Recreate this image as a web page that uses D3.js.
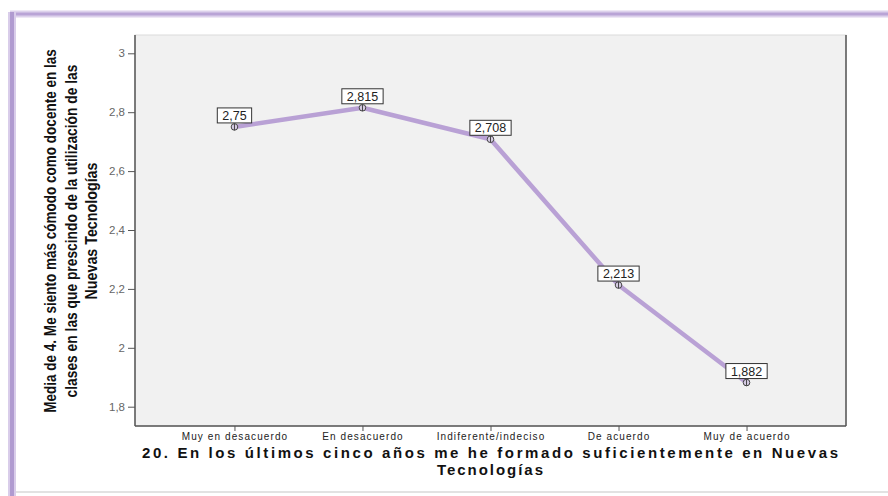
<!DOCTYPE html>
<html>
<head>
<meta charset="utf-8">
<script src="https://cdn.jsdelivr.net/npm/d3@7"></script>
<style>
  body { margin: 0; background: #fff; }
  svg { display: block; }
</style>
</head>
<body>
<script>
var w = 888, h = 496;

// data
var categories = ["Muy en desacuerdo", "En desacuerdo", "Indiferente/indeciso", "De acuerdo", "Muy de acuerdo"];
var means = [2.75, 2.815, 2.708, 2.213, 1.882];
var yTicks = [1.8, 2, 2.2, 2.4, 2.6, 2.8, 3];
var yTitle = ["Media de 4. Me siento más cómodo como  docente en las",
              "clases en las que  prescindo de la utilización de las",
              "Nuevas Tecnologías"];
var xTitle = ["20. En los últimos cinco años me he  formado suficientemente en Nuevas",
              "Tecnologías"];

var loc = d3.formatLocale({decimal: ",", thousands: ".", grouping: [3], currency: ["", ""]});
var fTick = loc.format(".1~f");
var fVal = loc.format(".3~f");

var plot = {left: 135, right: 846, top: 35, bottom: 426};

var svg = d3.select("body").append("svg").attr("width", w).attr("height", h);

// card frame
svg.append("rect").attr("x", 15).attr("y", 14).attr("width", w - 15).attr("height", 478).attr("fill", "#fff");
svg.append("line").attr("x1", 15).attr("x2", w).attr("y1", 492).attr("y2", 492)
  .attr("stroke", "#e2e2e2").attr("stroke-width", 2);
svg.append("line").attr("x1", 10).attr("x2", w).attr("y1", 14).attr("y2", 14)
  .attr("stroke", "#ddd2ec").attr("stroke-width", 7);
svg.append("line").attr("x1", 10).attr("x2", w).attr("y1", 14).attr("y2", 14)
  .attr("stroke", "#b9a4d6").attr("stroke-width", 3);
svg.append("line").attr("x1", 12).attr("x2", 12).attr("y1", 12).attr("y2", h)
  .attr("stroke", "#d9cdea").attr("stroke-width", 8);
svg.append("line").attr("x1", 12).attr("x2", 12).attr("y1", 12).attr("y2", h)
  .attr("stroke", "#b09bd0").attr("stroke-width", 4);

var x = d3.scalePoint().domain(categories).range([plot.left, plot.right]).padding(0.777);
var y = d3.scaleLinear().domain([1.8, 3]).range([406.7, 53.3]);

// plot background
svg.append("rect")
  .attr("x", plot.left).attr("y", plot.top)
  .attr("width", plot.right - plot.left).attr("height", plot.bottom - plot.top)
  .attr("fill", "#f1f1f1").attr("stroke", "#dcdcdc");
svg.append("line").attr("x1", plot.right).attr("x2", plot.right)
  .attr("y1", plot.top).attr("y2", plot.bottom).attr("stroke", "#555").attr("stroke-width", 1.5);

// y axis
var gy = svg.append("g").attr("transform", "translate(" + plot.left + ",0)")
  .call(d3.axisLeft(y).tickValues(yTicks).tickFormat(fTick).tickSize(7).tickPadding(3));
gy.select(".domain").attr("d", "M0," + plot.top + "V" + plot.bottom).attr("stroke", "#555").attr("stroke-width", 1.5);
gy.selectAll(".tick line").attr("stroke", "#555");
gy.selectAll(".tick text").attr("fill", "#666").attr("font-family", "Liberation Sans, Arial, sans-serif").attr("font-size", 11.5);

// x axis
var gx = svg.append("g").attr("transform", "translate(0," + plot.bottom + ")")
  .call(d3.axisBottom(x).tickSize(5).tickPadding(2));
gx.select(".domain").attr("d", "M" + plot.left + ",0H" + plot.right).attr("stroke", "#555").attr("stroke-width", 1.5);
gx.selectAll(".tick line").attr("stroke", "#555");
gx.selectAll(".tick text").attr("fill", "#222").attr("font-family", "Liberation Sans, Arial, sans-serif")
  .attr("font-size", 10).attr("letter-spacing", "1.1px");

// line
var line = d3.line().x(function(d, i){ return x(categories[i]); }).y(function(d){ return y(d); });
svg.append("path").datum(means).attr("d", line)
  .attr("fill", "none").attr("stroke", "#b9a1d5").attr("stroke-width", 4.5).attr("stroke-linejoin", "round");

// markers
var mk = svg.append("g").selectAll("g").data(means).enter().append("g")
  .attr("transform", function(d, i){ return "translate(" + x(categories[i]) + "," + y(d) + ")"; });
mk.append("circle").attr("r", 3.3).attr("fill", "#d6cce4").attr("stroke", "#444").attr("stroke-width", 1);
mk.append("line").attr("y1", -3.3).attr("y2", 3.3).attr("stroke", "#444").attr("stroke-width", 1);

// value labels
var lab = svg.append("g").selectAll("g").data(means).enter().append("g")
  .attr("transform", function(d, i){ return "translate(" + x(categories[i]) + "," + (y(d) - 4) + ")"; });
lab.append("rect").attr("fill", "#fff").attr("stroke", "#333").attr("stroke-width", 1);
var txt = lab.append("text").attr("text-anchor", "middle").attr("y", -3)
  .attr("font-family", "Liberation Sans, Arial, sans-serif").attr("font-size", 12.5).attr("fill", "#222")
  .text(function(d){ return fVal(d); });
txt.each(function(){
  var tw = this.getComputedTextLength();
  d3.select(this.parentNode).select("rect")
    .attr("x", -tw / 2 - 5).attr("y", -15).attr("width", tw + 10).attr("height", 15);
});

// y title: bold squeezed horizontally (condensed look), three centred lines
var yLen = [364, 333, 137];
var yt = svg.append("g").attr("transform", "translate(56,231) rotate(-90)")
  .selectAll("text").data(yTitle).enter().append("text")
  .attr("x", 0).attr("y", 0)
  .attr("text-anchor", "middle")
  .attr("font-family", "Liberation Sans, Arial, sans-serif")
  .attr("font-weight", "bold").attr("font-size", 16).attr("fill", "#111")
  .text(function(d){ return d; });
yt.each(function(d, i){
  var sx = yLen[i] / this.getComputedTextLength();
  d3.select(this).attr("transform", "translate(0," + (i * 20.5) + ") scale(" + sx + ",1)");
});

// x title
var xLen = [696, 106];
svg.append("g").selectAll("text").data(xTitle).enter().append("text")
  .attr("x", 490).attr("y", function(d, i){ return 458 + i * 17; })
  .attr("text-anchor", "middle")
  .attr("font-family", "Liberation Sans, Arial, sans-serif").attr("font-weight", "bold")
  .attr("font-size", 15).attr("fill", "#111")
  .attr("textLength", function(d, i){ return xLen[i]; })
  .attr("lengthAdjust", "spacing")
  .text(function(d){ return d; });
</script>
</body>
</html>
